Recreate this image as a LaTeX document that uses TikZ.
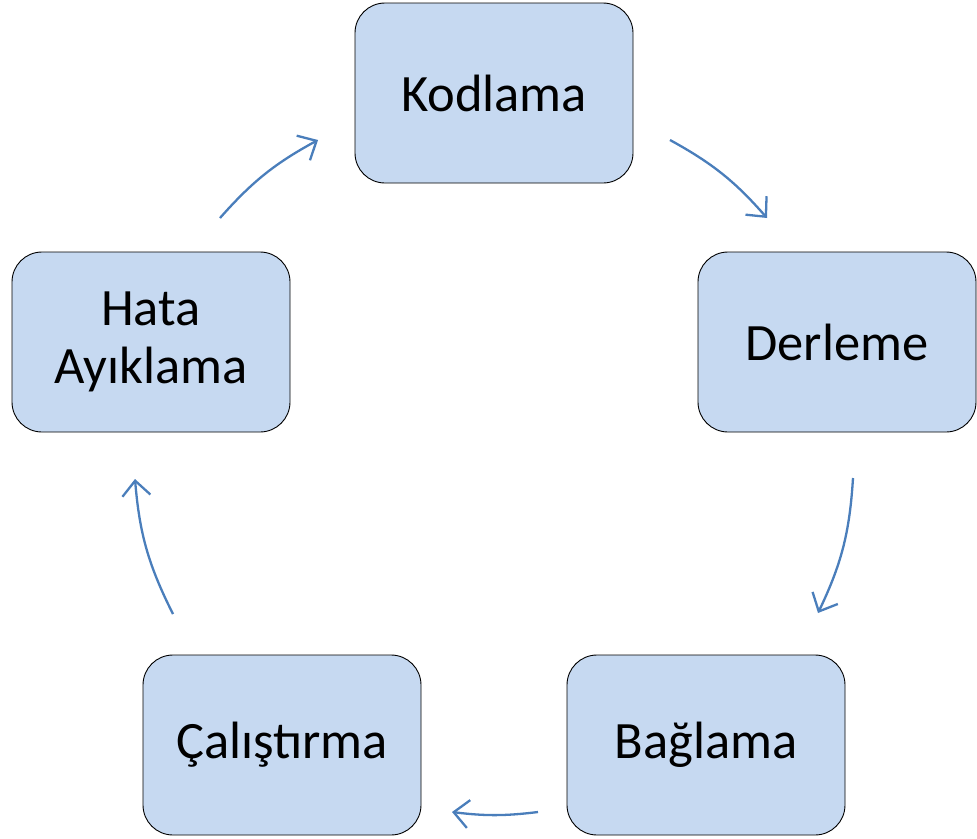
\documentclass[tikz,border=0pt]{standalone}
\usepackage{fontspec}
\setmainfont{Carlito}
\usetikzlibrary{arrows.meta}
\definecolor{boxfill}{HTML}{C6D9F1}
\definecolor{arrowblue}{HTML}{4A7EBB}
\tikzset{
  stage/.style={draw=black, line width=0.9pt, fill=boxfill, rounded corners=30pt,
    minimum width=278pt, minimum height=180pt, align=center,
    font=\fontsize{52.5}{58}\selectfont, inner sep=0pt},
  flow/.style={draw=arrowblue, line width=2.3pt,
    -{Straight Barb[length=15pt,width=28pt,line width=2.3pt]}}
}
\begin{document}
\begin{tikzpicture}[x=1pt,y=-1pt]
\useasboundingbox (0,0) rectangle (977,838);

% the five stages of the cycle
\node[stage] (kod) at (494,93) {Kodlama};
\node[stage] (der) at (837,342) {Derleme};
\node[stage] (bag) at (706,745) {Bağlama};
\node[stage] (cal) at (282,745) {Çalıştırma};
\node[stage] (hata) at (151,342) {Hata\\Ayıklama};

% arrow end points between the stages
\coordinate (a1s) at (670,140);
\coordinate (a1e) at (767,218);
\coordinate (a2s) at (853,478);
\coordinate (a2e) at (818,613);
\coordinate (a3s) at (538,812);
\coordinate (a3e) at (452,812);
\coordinate (a4s) at (173,614);
\coordinate (a4e) at (135,479);
\coordinate (a5s) at (220,218);
\coordinate (a5e) at (318,140);

% clockwise flow
\draw[flow] (a1s) to[bend left=10] (a1e);
\draw[flow] (a2s) to[bend left=11] (a2e);
\draw[flow] (a3s) to[bend left=7] (a3e);
\draw[flow] (a4s) to[bend left=11] (a4e);
\draw[flow] (a5s) to[bend left=10] (a5e);
\end{tikzpicture}
\end{document}
